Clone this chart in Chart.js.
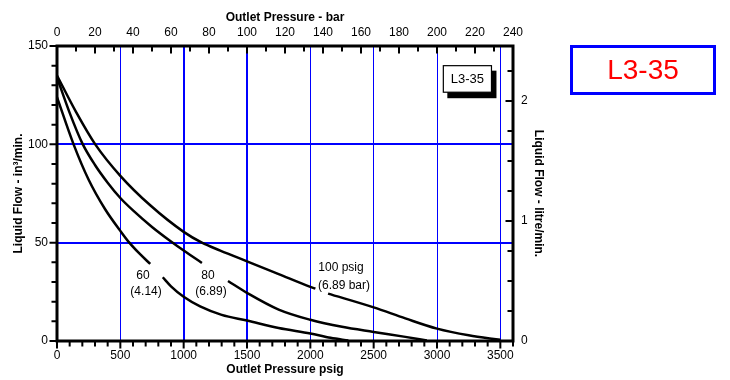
<!DOCTYPE html>
<html><head><meta charset="utf-8">
<script src="https://cdn.jsdelivr.net/npm/chart.js@4/dist/chart.umd.min.js"></script>
<style>html,body{margin:0;padding:0;background:#fff}#wrap{width:730px;height:380px}</style>
</head><body><div id="wrap"><canvas id="c" width="730" height="380"></canvas></div>
<script>
// ---- data (outlet pressure in psig, liquid flow in in^3/min) ----
const psig100 = [0,150,302,500,736,1000,1144,1289,1500,1750,2000,2040,2090,2140,2500,2750,3000,3250,3500];
const flow100 = [135,116.5,100,84,69,55.5,50,46,40.5,34,27.5,26.6,null,24.1,17.1,11.5,6.3,2.9,0.6];
const psig80  = [0,100,200,300,400,500,600,750,900,1000,1144,1250,1350,1500,1750,2000,2250,2500,2750,2920];
const flow80  = [134,116,100.5,89.5,80.5,72.7,66.4,58,50.6,46,39.7,null,30.5,24.5,16,10.8,7.2,4.6,2.1,0.3];
const psig60  = [0,131,250,380,500,571,650,736,785,835,900,1000,1130,1300,1500,1750,2000,2160,2300];
const flow60  = [124,100,82,67,56,50,44.5,39.2,null,32.4,27.8,22.5,17.6,13.3,10.4,6.6,3.8,1.6,0.2];

const psigTicks  = [0,500,1000,1500,2000,2500,3000,3500];
const barTicks   = [0,20,40,60,80,100,120,140,160,180,200,220,240];
const flowTicks  = [0,50,100,150];
const litreTicks = [0,1,2];

const curveLabels = ['60','(4.14)','80','(6.89)','100 psig','(6.89 bar)'];
const chartTag = 'L3-35';

// ---- styles ----
const BLUE = '#0000ff';
const FONT = '"Liberation Sans", Arial, Helvetica, sans-serif';
Chart.defaults.font.family = FONT;
Chart.defaults.font.size = 12;
Chart.defaults.color = '#000';
const IN3_PER_LITRE = 61.0237;
const labelPos = [[679,33],[703,24.9],[1192,33],[1216,24.9],[2242,37.1],[2266,28]];

function pts(xs, ys){ return xs.map((x,i)=>({x:x, y:ys[i]})); }
function ds(label, xs, ys){
  return {label, data: pts(xs, ys), borderColor:'#000', borderWidth:2.5, pointRadius:0,
    fill:false, cubicInterpolationMode:'monotone', spanGaps:false, xAxisID:'x', yAxisID:'y'};
}
const transparent = 'rgba(0,0,0,0)';
const plain = v => String(v);

const decor = {
  id:'decor',
  afterDatasetsDraw(chart){
    const {ctx, chartArea:a} = chart;
    const {x, y, x2, y2} = chart.scales;
    ctx.save();
    ctx.strokeStyle = '#000';
    ctx.lineWidth = 2;
    ctx.beginPath();
    for (let v = 0; v <= 3600; v += 100){
      const p = x.getPixelForValue(v), L = (v % 500 === 0) ? 6 : 4;
      ctx.moveTo(p, a.bottom); ctx.lineTo(p, a.bottom + 1.5 + L);
    }
    for (let v = 0; v <= 240; v += 10){
      const p = x2.getPixelForValue(v), L = (v % 20 === 0) ? 6 : 4;
      ctx.moveTo(p, a.top); ctx.lineTo(p, a.top + 1.5 + L);
    }
    for (let v = 0; v <= 150; v += 10){
      const p = y.getPixelForValue(v), L = (v % 50 === 0) ? 6 : 4;
      ctx.moveTo(a.left, p); ctx.lineTo(a.left - 1.5 - L, p);
    }
    for (let v = 0; v <= 2.45; v += 0.25){
      const p = y2.getPixelForValue(v), L = (Math.abs(v - Math.round(v)) < 1e-6) ? 6 : 4;
      ctx.moveTo(a.right, p); ctx.lineTo(a.right - 1.5 - L, p);
    }
    ctx.stroke();
    ctx.lineWidth = 3;
    ctx.strokeRect(a.left, a.top, a.right - a.left, a.bottom - a.top);
    ctx.restore();
  },
  afterDraw(chart){
    const {ctx} = chart;
    const {x, y} = chart.scales;
    ctx.save();
    ctx.fillStyle = '#000';
    ctx.font = '12px ' + FONT;
    ctx.textAlign = 'center';
    ctx.textBaseline = 'middle';
    curveLabels.forEach((t, i) => {
      ctx.fillText(t, x.getPixelForValue(labelPos[i][0]), y.getPixelForValue(labelPos[i][1]));
    });
    const bx0 = x.getPixelForValue(3050), bx1 = x.getPixelForValue(3430);
    const by0 = y.getPixelForValue(140), by1 = y.getPixelForValue(126.5);
    const w = bx1 - bx0, h = by1 - by0;
    ctx.fillStyle = '#000';
    ctx.fillRect(bx0 + 4, by0 + 5, w + 1, h + 1);
    ctx.fillStyle = '#fff';
    ctx.fillRect(bx0, by0, w, h);
    ctx.strokeStyle = '#000';
    ctx.lineWidth = 1.2;
    ctx.strokeRect(bx0, by0, w, h);
    ctx.fillStyle = '#000';
    ctx.font = '13px ' + FONT;
    ctx.fillText(chartTag, (bx0 + bx1) / 2, (by0 + by1) / 2 + 0.5);
    ctx.strokeStyle = BLUE;
    ctx.lineWidth = 3;
    ctx.strokeRect(571.5, 46.5, 143, 47);
    ctx.fillStyle = '#ff0000';
    ctx.font = '28px ' + FONT;
    ctx.fillText(chartTag, 643, 71);
    ctx.restore();
  }
};

new Chart(document.getElementById('c'), {
  type: 'line',
  data: { datasets: [ ds('100 psig', psig100, flow100), ds('80 psig', psig80, flow80), ds('60 psig', psig60, flow60) ] },
  options: {
    responsive: false, animation: false,
    layout: { padding: { left:0, top:0, right:180, bottom:0 } },
    plugins: { legend: { display:false }, tooltip: { enabled:false } },
    scales: {
      x: {
        type:'linear', position:'bottom', min:0, max:3600,
        afterFit(s){ s.height = 39; },
        afterBuildTicks(s){ s.ticks = psigTicks.map(v => ({value:v})); },
        ticks:{ padding:7, maxRotation:0, autoSkip:false, color:'#000', font:{size:12}, callback: plain },
        grid:{ drawTicks:false,
          color: c => (c.tick && c.tick.value > 0 && c.tick.value < 3600) ? BLUE : transparent,
          lineWidth: c => (c.tick && (c.tick.value === 1000 || c.tick.value === 1500)) ? 2 : 1 },
        border:{ display:false },
        title:{ display:true, text:'Outlet Pressure psig', color:'#000', font:{size:12, weight:'bold'}, padding:{top:0, bottom:3} }
      },
      x2: {
        type:'linear', position:'top', min:0, max:240,
        afterFit(s){ s.height = 46; },
        afterBuildTicks(s){ s.ticks = barTicks.map(v => ({value:v})); },
        ticks:{ padding:6, maxRotation:0, autoSkip:false, color:'#000', font:{size:12}, callback: plain },
        grid:{ display:false, drawTicks:false },
        border:{ display:false },
        title:{ display:true, text:'Outlet Pressure - bar', color:'#000', font:{size:12, weight:'bold'}, padding:{top:10, bottom:0} }
      },
      y: {
        type:'linear', position:'left', min:0, max:150,
        afterFit(s){ s.width = 57; },
        afterBuildTicks(s){ s.ticks = flowTicks.map(v => ({value:v})); },
        ticks:{ padding:9, color:'#000', font:{size:12}, callback: plain },
        grid:{ drawTicks:false,
          color: c => (c.tick && c.tick.value > 0 && c.tick.value < 150) ? BLUE : transparent,
          lineWidth: 2 },
        border:{ display:false },
        title:{ display:true, text:'Liquid Flow - in³/min.', color:'#000', font:{size:12, weight:'bold'}, padding:{top:11, bottom:0} }
      },
      y2: {
        type:'linear', position:'right', min:0, max:150 / IN3_PER_LITRE,
        afterFit(s){ s.width = 37; },
        afterBuildTicks(s){ s.ticks = litreTicks.map(v => ({value:v})); },
        ticks:{ padding:8, color:'#000', font:{size:12}, callback: plain },
        grid:{ display:false, drawTicks:false },
        border:{ display:false },
        title:{ display:true, text:'Liquid Flow - litre/min.', color:'#000', font:{size:12, weight:'bold'}, padding:{top:4, bottom:0} }
      }
    }
  },
  plugins: [decor]
});
</script>
</body></html>
